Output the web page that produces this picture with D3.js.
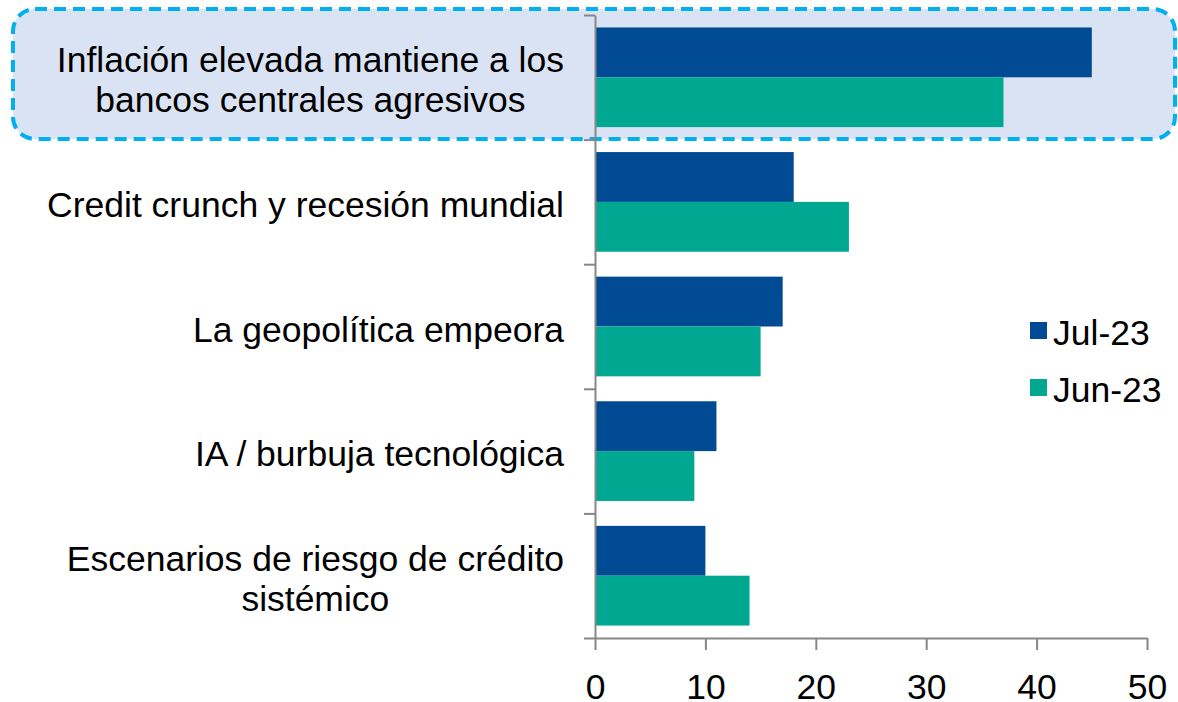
<!DOCTYPE html>
<html>
<head>
<meta charset="utf-8">
<script src="https://cdn.jsdelivr.net/npm/d3@7"></script>
<style>
  html, body { margin: 0; padding: 0; background: #ffffff; }
  svg { display: block; font-family: "Liberation Sans", Arial, sans-serif; }
</style>
</head>
<body>
<svg id="chart" width="1178" height="702"></svg>
<script>
// ---- data ----
const categories = [
  ["Inflación elevada mantiene a los", "bancos centrales agresivos"],
  ["Credit crunch y recesión mundial"],
  ["La geopolítica empeora"],
  ["IA / burbuja tecnológica"],
  ["Escenarios de riesgo de crédito", "sistémico"]
];
const seriesNames = ["Jul-23", "Jun-23"];
const jul23 = [45, 18, 17, 11, 10];
const jun23 = [37, 23, 15, 9, 14];
const xTicks = [0, 10, 20, 30, 40, 50];
const seriesColors = ["#004b93", "#00a892"];

// ---- layout ----
const svg = d3.select("#chart");
const plot = { left: 595, right: 1147, top: 15, bottom: 638 };
const fontSize = 35.5;
const axisColor = "#878787";

const catKeys = categories.map((c, i) => i);
const x = d3.scaleLinear().domain([0, 50]).range([plot.left, plot.right]);
const y = d3.scaleBand().domain(catKeys).range([plot.top, plot.bottom]).padding(0);
const yInner = d3.scaleBand().domain(seriesNames).range([0, y.bandwidth()]).paddingOuter(0.25).paddingInner(0);
const yIdx = d3.scaleLinear().domain([0, categories.length]).range([plot.top, plot.bottom]);

// highlight box around first category
svg.append("rect")
  .attr("x", 13).attr("y", 9)
  .attr("width", 1162).attr("height", 130)
  .attr("rx", 22).attr("ry", 22)
  .attr("fill", "#dae3f3")
  .attr("stroke", "#00b0f0")
  .attr("stroke-width", 4)
  .attr("stroke-dasharray", "12,7");

// bars
const rows = catKeys.map(i => ({ i, values: [jul23[i], jun23[i]] }));
const g = svg.append("g");
rows.forEach(r => {
  seriesNames.forEach((s, k) => {
    g.append("rect")
      .attr("x", x(0))
      .attr("y", y(r.i) + yInner(s))
      .attr("width", x(r.values[k]) - x(0))
      .attr("height", yInner.bandwidth())
      .attr("fill", seriesColors[k]);
  });
});

// y axis (category boundaries)
const yAxis = svg.append("g")
  .attr("transform", `translate(${plot.left},0)`)
  .call(d3.axisLeft(yIdx).tickValues(d3.range(categories.length + 1)).tickSize(11).tickSizeOuter(0).tickFormat(""));
yAxis.selectAll("path, line").attr("stroke", axisColor).attr("stroke-width", 2);

// x axis
const xAxis = svg.append("g")
  .attr("transform", `translate(0,${plot.bottom})`)
  .call(d3.axisBottom(x).tickValues(xTicks).tickSize(12).tickSizeOuter(0).tickPadding(24).tickFormat(d3.format("d")));
xAxis.selectAll("path, line").attr("stroke", axisColor).attr("stroke-width", 2);
xAxis.selectAll("text").attr("font-size", fontSize).attr("fill", "#000")
  .attr("font-family", "'Liberation Sans', Arial, sans-serif");

// category labels
const labelRight = 564;
const lineH = 40;
const labels = svg.append("g").attr("font-size", fontSize).attr("fill", "#000");
categories.forEach((lines, i) => {
  const c = y(i) + y.bandwidth() / 2 + 15;
  const t = labels.append("text").attr("text-anchor", "middle");
  const spans = lines.map((ln, j) => t.append("tspan")
    .attr("y", c + (j - (lines.length - 1) / 2) * lineH)
    .text(ln));
  const widths = spans.map(sp => sp.node().getComputedTextLength());
  const maxW = d3.max(widths);
  spans.forEach(sp => sp.attr("x", labelRight - maxW / 2));
});

// legend
const legend = svg.append("g").attr("font-size", fontSize);
seriesNames.forEach((s, k) => {
  const ly = 322 + k * 57;
  legend.append("rect").attr("x", 1030).attr("y", ly).attr("width", 17).attr("height", 17).attr("fill", seriesColors[k]);
  legend.append("text").attr("x", 1053).attr("y", ly + 23).attr("fill", "#000").text(s);
});
</script>
</body>
</html>
